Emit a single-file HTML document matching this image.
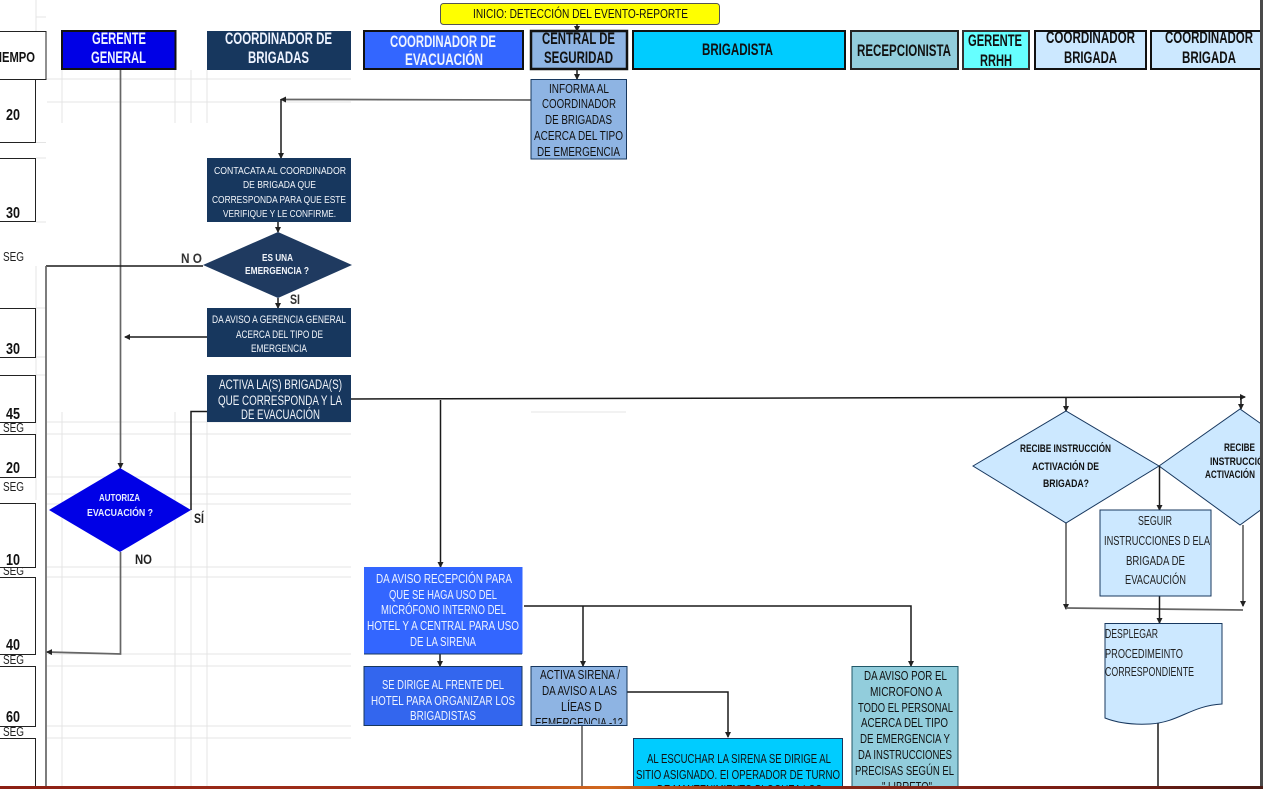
<!DOCTYPE html>
<html lang="es"><head><meta charset="utf-8"><title>Flujo de evacuación</title>
<style>
html,body{margin:0;padding:0;width:1263px;height:789px;overflow:hidden;background:#fff}
svg{display:block;position:absolute;left:0;top:0;filter:blur(.3px)}
text{font-family:"Liberation Sans",sans-serif}
.h{font-size:16.500px;font-weight:bold}
.s{font-size:12.500px}
.m{font-size:13px}
.b{font-size:16px;font-weight:bold;fill:#111}
.k{fill:#111}
.g{stroke:#e4e4e4;stroke-width:1;fill:none}
.l{stroke:#1a1a1a;stroke-width:1.500;fill:none}
.y{stroke:#666;stroke-width:1.700;fill:none}
</style></head><body>
<svg width="1263" height="789" viewBox="0 0 1263 789" xmlns="http://www.w3.org/2000/svg">
<defs>
<marker id="a" markerWidth="6" markerHeight="6" refX="5" refY="3" orient="auto" markerUnits="userSpaceOnUse"><path d="M0 0L6 3L0 6Z" fill="#222"/></marker>
<clipPath id="c1"><rect x="531" y="666" width="96" height="58"/></clipPath>
<clipPath id="c2"><rect x="0" y="0" width="1263" height="786"/></clipPath>
<linearGradient id="st" x1="0" x2="1" y1="0" y2="0">
<stop offset="0" stop-color="#8c1f14"/><stop offset="0.35" stop-color="#a5331a"/><stop offset="0.48" stop-color="#d2691e"/><stop offset="0.6" stop-color="#8a2a18"/><stop offset="0.85" stop-color="#7a1d14"/><stop offset="1" stop-color="#4a1a14"/>
</linearGradient>
</defs>
<g class="g">
<path d="M36 0V31M36 17H46M46 79H351M47 102H351M62 70V123M175 70V123M191 70V123M207 70V123M36 142.500H46M36 158H46M36 222H46M36 266V500M36 308H46M36 357H46M36 375H46"/>
<path d="M47 422H351M47 434H351M47 477H351M47 494H351M47 504H351M47 567H351M47 577H351M47 654H351M47 666H351M47 726H351M47 738H351M62 412V786M175 412V786M191 504V786M207 412V786M531 412H626"/>
</g>
<g fill="#222">
<text class="m" x="3" y="261" textLength="21" lengthAdjust="spacingAndGlyphs">SEG</text>
<text class="m" x="3" y="432" textLength="21" lengthAdjust="spacingAndGlyphs">SEG</text>
<text class="m" x="3" y="491" textLength="21" lengthAdjust="spacingAndGlyphs">SEG</text>
<text class="m" x="3" y="575" textLength="21" lengthAdjust="spacingAndGlyphs">SEG</text>
<text class="m" x="3" y="664" textLength="21" lengthAdjust="spacingAndGlyphs">SEG</text>
<text class="m" x="3" y="736" textLength="21" lengthAdjust="spacingAndGlyphs">SEG</text>
</g>
<g fill="#fff" stroke="#222" stroke-width="1">
<rect x="-2" y="31.500" width="48" height="48"/>
<rect x="-2" y="79.500" width="37.500" height="63"/>
<rect x="-2" y="158.500" width="37.500" height="63"/>
<rect x="-2" y="308.500" width="37.500" height="49"/>
<rect x="-2" y="375.500" width="37.500" height="47"/>
<rect x="-2" y="434.500" width="37.500" height="43"/>
<rect x="-2" y="503.500" width="37.500" height="64"/>
<rect x="-2" y="577.500" width="37.500" height="77"/>
<rect x="-2" y="666.500" width="37.500" height="60"/>
<rect x="-2" y="738.500" width="37.500" height="60"/>
</g>
<text class="k" x="-8" y="62" textLength="43" lengthAdjust="spacingAndGlyphs" font-size="15" font-weight="bold">TIEMPO</text>
<g class="b">
<text x="6" y="120" textLength="14" lengthAdjust="spacingAndGlyphs">20</text>
<text x="6" y="218" textLength="14" lengthAdjust="spacingAndGlyphs">30</text>
<text x="6" y="354" textLength="14" lengthAdjust="spacingAndGlyphs">30</text>
<text x="6" y="419" textLength="14" lengthAdjust="spacingAndGlyphs">45</text>
<text x="6" y="473" textLength="14" lengthAdjust="spacingAndGlyphs">20</text>
<text x="6" y="565" textLength="14" lengthAdjust="spacingAndGlyphs">10</text>
<text x="6" y="650" textLength="14" lengthAdjust="spacingAndGlyphs">40</text>
<text x="6" y="722" textLength="14" lengthAdjust="spacingAndGlyphs">60</text>
</g>

<!-- headers -->
<rect x="440.500" y="3.500" width="279" height="21" rx="3" fill="#ffff00" stroke="#555" stroke-width="1"/>
<text class="k" x="473" y="18" font-size="13" textLength="215" lengthAdjust="spacingAndGlyphs">INICIO: DETECCIÓN DEL EVENTO-REPORTE</text>
<rect x="62" y="31" width="113.500" height="38" fill="#0000e6" stroke="#111" stroke-width="2"/>
<rect x="207" y="31" width="144" height="39" fill="#17375e"/>
<rect x="364" y="31" width="159" height="38" fill="#3366ff" stroke="#111" stroke-width="2"/>
<rect x="531" y="31" width="96" height="38" fill="#8eb4e3" stroke="#111" stroke-width="2.500"/>
<rect x="633" y="31" width="212" height="38" fill="#00ccff" stroke="#111" stroke-width="2"/>
<rect x="851" y="31" width="107" height="38" fill="#92cddc" stroke="#222" stroke-width="2"/>
<rect x="963" y="31" width="66" height="38" fill="#66ffff" stroke="#333" stroke-width="2"/>
<rect x="1035" y="31" width="111" height="38" fill="#cce8ff" stroke="#111" stroke-width="2"/>
<rect x="1151" y="31" width="112" height="38" fill="#cce8ff" stroke="#111" stroke-width="2"/>
<g class="h" fill="#eef3ff">
<text x="92" y="44" textLength="54" lengthAdjust="spacingAndGlyphs">GERENTE</text>
<text x="91" y="63" textLength="55" lengthAdjust="spacingAndGlyphs">GENERAL</text>
<text x="225" y="44" textLength="107" lengthAdjust="spacingAndGlyphs">COORDINADOR DE</text>
<text x="248" y="63" textLength="61" lengthAdjust="spacingAndGlyphs">BRIGADAS</text>
<text x="390" y="47" textLength="106" lengthAdjust="spacingAndGlyphs">COORDINADOR DE</text>
<text x="405" y="65" textLength="78" lengthAdjust="spacingAndGlyphs">EVACUACIÓN</text>
</g>
<g class="h" fill="#111">
<text x="542" y="44" textLength="73" lengthAdjust="spacingAndGlyphs">CENTRAL DE</text>
<text x="544" y="63" textLength="69" lengthAdjust="spacingAndGlyphs">SEGURIDAD</text>
<text x="702" y="55" textLength="71" lengthAdjust="spacingAndGlyphs">BRIGADISTA</text>
<text x="857" y="56" textLength="94" lengthAdjust="spacingAndGlyphs">RECEPCIONISTA</text>
<text x="968" y="46" textLength="54" lengthAdjust="spacingAndGlyphs">GERENTE</text>
<text x="980" y="66" textLength="32" lengthAdjust="spacingAndGlyphs">RRHH</text>
<text x="1046" y="43" textLength="89" lengthAdjust="spacingAndGlyphs">COORDINADOR</text>
<text x="1064" y="63" textLength="53" lengthAdjust="spacingAndGlyphs">BRIGADA</text>
<text x="1165" y="43" textLength="88" lengthAdjust="spacingAndGlyphs">COORDINADOR</text>
<text x="1182" y="63" textLength="54" lengthAdjust="spacingAndGlyphs">BRIGADA</text>
</g>

<!-- connectors -->
<path class="y" d="M120.500 70V468" marker-end="url(#a)"/>
<path class="l" d="M203 266H46"/>
<path class="y" d="M46 266V786"/>
<path class="l" d="M207 337H125" marker-end="url(#a)"/>
<path class="l" d="M191 510V411.500H207"/>
<path class="y" d="M120.500 552V654L47 652" marker-end="url(#a)"/>
<path class="y" d="M531 100L340 99.500H281" marker-end="url(#a)"/>
<path class="l" d="M281 99V158" marker-end="url(#a)"/>
<path class="l" d="M278 222V232" marker-end="url(#a)"/>
<path class="l" d="M278 298V308" marker-end="url(#a)"/>
<path class="l" d="M577 24V31" marker-end="url(#a)"/>
<path class="l" d="M577 69V79" marker-end="url(#a)"/>
<path class="l" d="M351 399L1245 397" marker-end="url(#a)"/>
<path class="l" d="M440.500 400V567" marker-end="url(#a)"/>
<path class="l" d="M1066 397V411" marker-end="url(#a)"/>
<path class="l" d="M1241 397V409" marker-end="url(#a)"/>
<path class="y" d="M1066 523V609" marker-end="url(#a)"/>
<path class="y" d="M1066 608L1243 610"/>
<path class="y" d="M1243 525V606" marker-end="url(#a)"/>
<path class="l" d="M1159.500 596V623" marker-end="url(#a)"/>
<path class="l" d="M1158 722V786"/>
<path class="l" d="M440 654V666" marker-end="url(#a)"/>
<path class="l" d="M524 606H911V666" marker-end="url(#a)"/>
<path class="l" d="M583 606V666" marker-end="url(#a)"/>
<path class="l" d="M627 692H728V737" marker-end="url(#a)"/>
<path class="y" d="M582 726V786"/>

<!-- nodes -->
<rect x="531" y="79.500" width="95.500" height="79.500" fill="#8eb4e3" stroke="#17375e"/>
<g class="s" fill="#111">
<text x="549" y="93" textLength="60" lengthAdjust="spacingAndGlyphs">INFORMA AL</text>
<text x="542" y="108" textLength="74" lengthAdjust="spacingAndGlyphs">COORDINADOR</text>
<text x="545" y="124" textLength="67" lengthAdjust="spacingAndGlyphs">DE BRIGADAS</text>
<text x="534" y="140" textLength="89" lengthAdjust="spacingAndGlyphs">ACERCA DEL TIPO</text>
<text x="537" y="156" textLength="83" lengthAdjust="spacingAndGlyphs">DE EMERGENCIA</text>
</g>
<rect x="207" y="158" width="144" height="64" fill="#17375e"/>
<g font-size="10.500" fill="#f2f5fa">
<text x="214" y="174" textLength="132" lengthAdjust="spacingAndGlyphs">CONTACATA AL COORDINADOR</text>
<text x="243" y="188" textLength="73" lengthAdjust="spacingAndGlyphs">DE BRIGADA QUE</text>
<text x="212" y="203" textLength="134" lengthAdjust="spacingAndGlyphs">CORRESPONDA PARA  QUE ESTE</text>
<text x="223" y="217" textLength="113" lengthAdjust="spacingAndGlyphs">VERIFIQUE Y LE CONFIRME.</text>
</g>
<polygon points="203,265 278,232 352,265 278,298" fill="#1f3a60"/>
<g font-size="10" font-weight="bold" fill="#f2f5fa">
<text x="262" y="261" textLength="31" lengthAdjust="spacingAndGlyphs">ES UNA</text>
<text x="245" y="274" textLength="64" lengthAdjust="spacingAndGlyphs">EMERGENCIA  ?</text>
</g>
<text x="181" y="263" font-size="14" font-weight="bold" fill="#333" textLength="21" lengthAdjust="spacingAndGlyphs">N O</text>
<text x="290" y="304" font-size="14" font-weight="bold" fill="#333" textLength="10" lengthAdjust="spacingAndGlyphs">SI</text>
<rect x="207" y="308" width="144" height="49" fill="#17375e"/>
<g font-size="11" fill="#f2f5fa">
<text x="212" y="323" textLength="134" lengthAdjust="spacingAndGlyphs">DA AVISO A GERENCIA GENERAL</text>
<text x="236" y="338" textLength="87" lengthAdjust="spacingAndGlyphs">ACERCA DEL TIPO DE</text>
<text x="251" y="352" textLength="56" lengthAdjust="spacingAndGlyphs">EMERGENCIA</text>
</g>
<rect x="207" y="375" width="144" height="47" fill="#17375e"/>
<g font-size="13.500" fill="#f2f5fa">
<text x="219" y="389" textLength="123" lengthAdjust="spacingAndGlyphs">ACTIVA LA(S) BRIGADA(S)</text>
<text x="218" y="405" textLength="124" lengthAdjust="spacingAndGlyphs">QUE CORRESPONDA  Y LA</text>
<text x="241" y="419" textLength="79" lengthAdjust="spacingAndGlyphs">DE EVACUACIÓN</text>
</g>
<polygon points="49,510 120,468 191,510 120,552" fill="#0000e6"/>
<g font-size="10" font-weight="bold" fill="#e8eeff">
<text x="99" y="501" textLength="41" lengthAdjust="spacingAndGlyphs">AUTORIZA</text>
<text x="87" y="516" textLength="66" lengthAdjust="spacingAndGlyphs">EVACUACIÓN   ?</text>
</g>
<text x="194" y="523" font-size="14" font-weight="bold" fill="#222" textLength="10" lengthAdjust="spacingAndGlyphs">SÍ</text>
<text x="135" y="564" font-size="14" font-weight="bold" fill="#222" textLength="17" lengthAdjust="spacingAndGlyphs">NO</text>

<rect x="364" y="567" width="158.500" height="87" fill="#3366ff"/>
<path d="M364 654H522" stroke="#17375e"/>
<g class="s" fill="#eef3ff">
<text x="376" y="583" textLength="136" lengthAdjust="spacingAndGlyphs">DA AVISO RECEPCIÓN PARA</text>
<text x="389" y="599" textLength="108" lengthAdjust="spacingAndGlyphs">QUE SE HAGA  USO DEL</text>
<text x="381" y="614" textLength="125" lengthAdjust="spacingAndGlyphs">MICRÓFONO INTERNO DEL</text>
<text x="367" y="630" textLength="152" lengthAdjust="spacingAndGlyphs">HOTEL Y A CENTRAL PARA  USO</text>
<text x="410" y="646" textLength="66" lengthAdjust="spacingAndGlyphs">DE LA SIRENA</text>
</g>
<rect x="364" y="666.500" width="158" height="59" fill="#3366ee" stroke="#17375e"/>
<g class="s" fill="#eef3ff">
<text x="382" y="689" textLength="122" lengthAdjust="spacingAndGlyphs">SE DIRIGE AL FRENTE DEL</text>
<text x="371" y="705" textLength="144" lengthAdjust="spacingAndGlyphs">HOTEL PARA ORGANIZAR LOS</text>
<text x="410" y="720" textLength="66" lengthAdjust="spacingAndGlyphs">BRIGADISTAS</text>
</g>
<rect x="531" y="666.500" width="96" height="59" fill="#8eb4e3" stroke="#17375e"/>
<g class="s" fill="#111" clip-path="url(#c1)">
<text x="540" y="679" textLength="80" lengthAdjust="spacingAndGlyphs">ACTIVA SIRENA /</text>
<text x="542" y="695" textLength="75" lengthAdjust="spacingAndGlyphs">DA AVISO A LAS</text>
<text x="561" y="711" textLength="41" lengthAdjust="spacingAndGlyphs">LÍEAS D</text>
<text x="535" y="727" textLength="88" lengthAdjust="spacingAndGlyphs">EEMERGENCIA -12</text>
</g>
<g clip-path="url(#c2)">
<rect x="633.500" y="738.500" width="209" height="60" fill="#00ccff" stroke="#17375e"/>
<g class="s" fill="#111">
<text x="647" y="763" textLength="184" lengthAdjust="spacingAndGlyphs">AL ESCUCHAR LA SIRENA SE DIRIGE AL</text>
<text x="636" y="779" textLength="204" lengthAdjust="spacingAndGlyphs">SITIO ASIGNADO. EI  OPERADOR DE TURNO</text>
<text x="657" y="794" textLength="165" lengthAdjust="spacingAndGlyphs">DE MANTENIMIENTO BLOQUEA LOS</text>
</g>
<rect x="852" y="666.500" width="106" height="130" fill="#92cddc" stroke="#215868"/>
<g class="s" fill="#111">
<text x="864" y="680" textLength="83" lengthAdjust="spacingAndGlyphs">DA AVISO POR EL</text>
<text x="870" y="696" textLength="72" lengthAdjust="spacingAndGlyphs">MICROFONO  A</text>
<text x="858" y="712" textLength="95" lengthAdjust="spacingAndGlyphs">TODO EL PERSONAL</text>
<text x="861" y="727" textLength="87" lengthAdjust="spacingAndGlyphs">ACERCA DEL TIPO</text>
<text x="860" y="743" textLength="90" lengthAdjust="spacingAndGlyphs">DE EMERGENCIA Y</text>
<text x="858" y="759" textLength="94" lengthAdjust="spacingAndGlyphs">DA INSTRUCCIONES</text>
<text x="855" y="775" textLength="99" lengthAdjust="spacingAndGlyphs">PRECISAS  SEGÚN EL</text>
<text x="882" y="791" textLength="50" lengthAdjust="spacingAndGlyphs">" LIBRETO"</text>
</g>
</g>

<polygon points="1159,466 1240,409 1321,466 1240,525" fill="#cce8ff" stroke="#17375e"/>
<polygon points="973,466 1066,411 1159,466 1066,523" fill="#cce8ff" stroke="#17375e"/>
<g font-size="11" font-weight="bold" fill="#111">
<text x="1020" y="452" textLength="91" lengthAdjust="spacingAndGlyphs">RECIBE  INSTRUCCIÓN</text>
<text x="1032" y="470" textLength="67" lengthAdjust="spacingAndGlyphs">ACTIVACIÓN DE</text>
<text x="1043" y="487" textLength="46" lengthAdjust="spacingAndGlyphs">BRIGADA?</text>
<text x="1224" y="451" textLength="31" lengthAdjust="spacingAndGlyphs">RECIBE</text>
<text x="1210" y="465" textLength="60" lengthAdjust="spacingAndGlyphs">INSTRUCCIÓN</text>
<text x="1205" y="478" textLength="50" lengthAdjust="spacingAndGlyphs">ACTIVACIÓN</text>
</g>
<path class="l" d="M1159.500 466V510" marker-end="url(#a)"/>
<rect x="1100" y="510" width="111" height="86" fill="#cce8ff" stroke="#17375e"/>
<g class="s" fill="#222">
<text x="1138" y="525" textLength="34" lengthAdjust="spacingAndGlyphs">SEGUIR</text>
<text x="1104" y="545" textLength="106" lengthAdjust="spacingAndGlyphs">INSTRUCCIONES  D ELA</text>
<text x="1126" y="565" textLength="59" lengthAdjust="spacingAndGlyphs">BRIGADA  DE</text>
<text x="1125" y="584" textLength="61" lengthAdjust="spacingAndGlyphs">EVACAUCIÓN</text>
</g>
<path d="M1105 623.500H1222V704C1190 706 1180 722 1150 724C1130 725 1115 722 1105 718Z" fill="#cce8ff" stroke="#17375e"/>
<g class="s" fill="#222">
<text x="1105" y="638" textLength="53" lengthAdjust="spacingAndGlyphs">DESPLEGAR</text>
<text x="1105" y="658" textLength="78" lengthAdjust="spacingAndGlyphs">PROCEDIMEINTO</text>
<text x="1105" y="676" textLength="89" lengthAdjust="spacingAndGlyphs">CORRESPONDIENTE</text>
</g>

<!-- window edges -->
<rect x="1260" y="0" width="3" height="789" fill="#4a4a4a"/>
<rect x="0" y="786" width="1263" height="3" fill="url(#st)"/>
</svg>
</body></html>
